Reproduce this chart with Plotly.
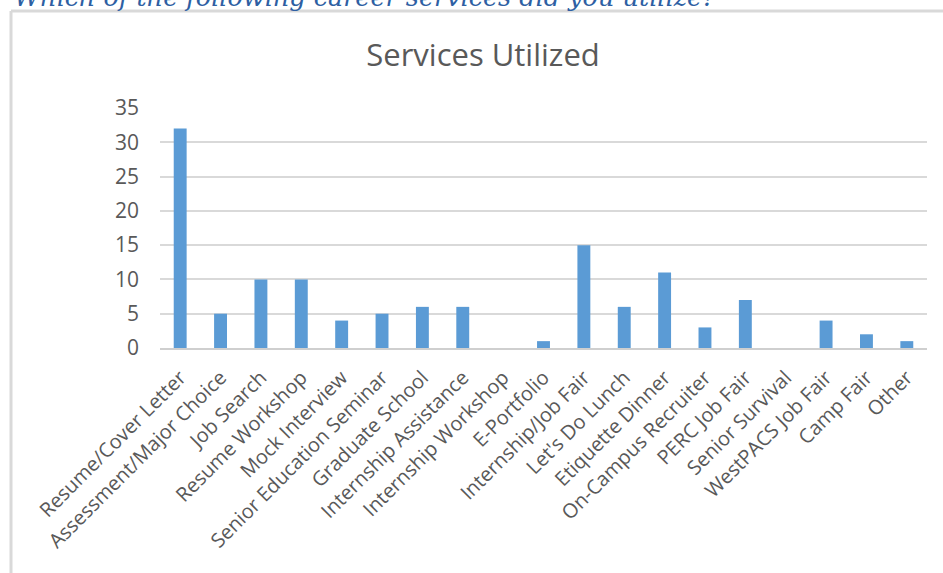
import plotly.graph_objects as go

categories = ["Resume/Cover Letter", "Assessment/Major Choice", "Job Search", "Resume Workshop",
              "Mock Interview", "Senior Education Seminar", "Graduate School", "Internship Assistance",
              "Internship Workshop", "E-Portfolio", "Internship/Job Fair", "Let's Do Lunch",
              "Etiquette Dinner", "On-Campus Recruiter", "PERC Job Fair", "Senior Survival",
              "WestPACS Job Fair", "Camp Fair", "Other"]
values = [32, 5, 10, 10, 4, 5, 6, 6, 0, 1, 15, 6, 11, 3, 7, 0, 4, 2, 1]
y_ticks = [0, 5, 10, 15, 20, 25, 30, 35]

W, H = 943, 573
L, R, T, B = 160, 16, 108, 225
pw, ph = W - L - R, H - T - B

def px_x(p):
    return (p - L) / pw

def px_y(p):
    return (H - B - p) / ph

font = "Open Sans"
grey = "#595959"

fig = go.Figure(go.Bar(x=categories, y=values, marker_color="#5b9bd5", width=0.32,
                       marker_line_width=0))

fig.update_layout(
    width=W, height=H,
    margin=dict(l=L, r=R, t=T, b=B),
    paper_bgcolor="white", plot_bgcolor="white",
    showlegend=False,
    title=dict(text="Services Utilized", x=483 / W, xref="container", xanchor="center",
               y=1 - 55 / H, yref="container", yanchor="middle",
               font=dict(family=font, size=31, color=grey)),
    xaxis=dict(tickangle=-45, tickfont=dict(family=font, size=20, color=grey),
               showgrid=False, showline=True, linecolor="#cfcfcf", linewidth=2,
               ticks="", fixedrange=True, ticklabelstandoff=8),
    yaxis=dict(range=[0, 35], tickvals=y_ticks, tickfont=dict(family=font, size=21, color=grey),
               showgrid=True, gridcolor="#d9d9d9", gridwidth=2, zeroline=False,
               showline=False, ticks="", ticklabelstandoff=20, fixedrange=True),
    shapes=[
        dict(type="line", xref="paper", yref="paper", x0=px_x(11), x1=px_x(11),
             y0=px_y(11), y1=px_y(H + 5), line=dict(color="#d9d9d9", width=3)),
        dict(type="line", xref="paper", yref="paper", x0=px_x(11), x1=px_x(W + 5),
             y0=px_y(11), y1=px_y(11), line=dict(color="#d9d9d9", width=3)),
    ],
    annotations=[
        dict(text="<i>Which of the following career services did you utilize?</i>",
             xref="paper", yref="paper", x=px_x(12), y=px_y(14), xanchor="left", yanchor="bottom",
             showarrow=False, font=dict(family="DejaVu Serif", size=25.5, color="#2e5fa3")),
    ],
)

fig.write_html("out.html", config={"displayModeBar": False},
               post_script="document.body.style.margin='0px';")
